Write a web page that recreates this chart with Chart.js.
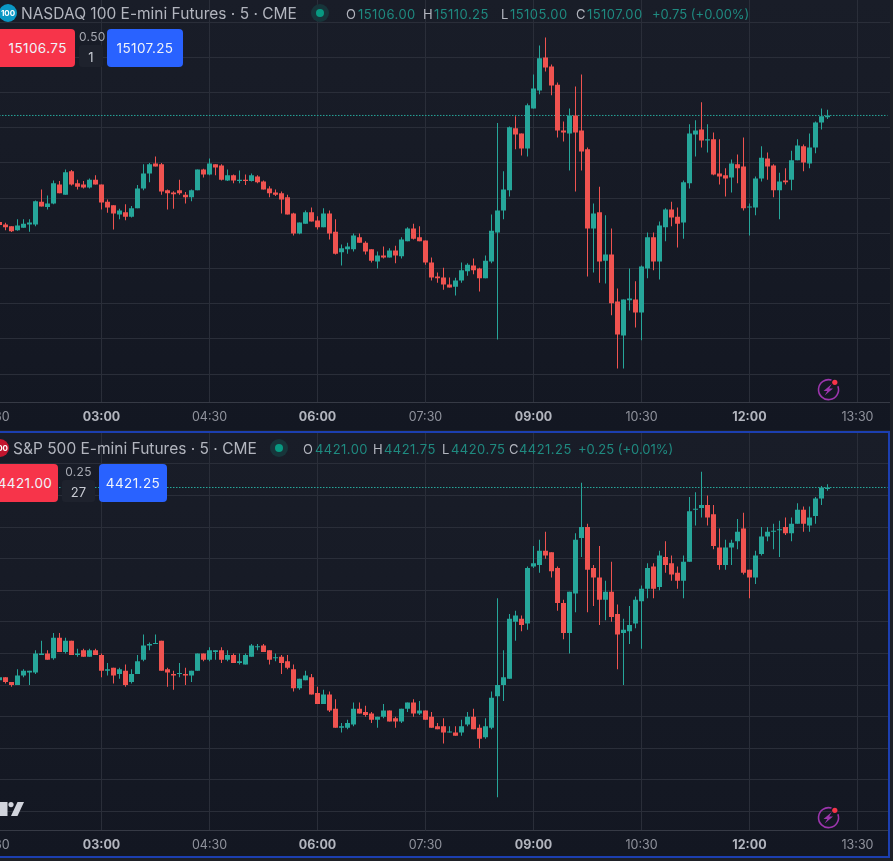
<!DOCTYPE html>
<html>
<head>
<meta charset="utf-8">
<title>NQ / ES 5 min</title>
<script src="https://cdn.jsdelivr.net/npm/chart.js@4"></script>
<style>
  html, body { margin: 0; padding: 0; width: 893px; height: 861px; overflow: hidden; background: #1e2026; }
  body { position: relative; font-family: Inter, "Noto Sans", sans-serif; }
  .pane { position: absolute; left: 0; overflow: hidden; background: linear-gradient(#191d28, #131722); }
  #pane1 { top: 0; width: 890px; height: 430px; }
  #pane2 { top: 433px; width: 888px; height: 423px; }
  .pane canvas { position: absolute; left: -46px; top: 0; }
  #frame { position: absolute; left: -4px; top: 431px; width: 894px; height: 427px; box-sizing: border-box; border: 2px solid #1c3fb0; }
  .txt { position: absolute; white-space: nowrap; line-height: 1; }
  .title { font-size: 15.5px; color: #b2b5be; }
  .ohlc { font-size: 13px; letter-spacing: 0.45px; color: #b2b5be; }
  .val { color: #1f8a80; }
  .chg { letter-spacing: 0; }
  .dot { position: absolute; width: 18px; height: 18px; border-radius: 50%; background: #17353a; }
  .dot i { position: absolute; left: 5px; top: 5px; width: 8px; height: 8px; border-radius: 50%; background: #089981; }
  .badge { position: absolute; width: 18px; height: 18px; border-radius: 50%; color: #fff; font-size: 8px; font-weight: 700; line-height: 18px; text-align: center; }
  .btn { position: absolute; top: 0; height: 38px; border-radius: 4px; color: #f0f3fa; font-size: 13.5px; letter-spacing: 0.4px; line-height: 38px; text-align: center; }
  .sell { background: #f7344a; }
  .buy { background: #2962ff; }
  .spread { position: absolute; font-size: 12px; letter-spacing: 0.3px; color: #a6a9b2; text-align: center; line-height: 1; }
  .qty { position: absolute; height: 22px; border-radius: 3px; background: #1e222d; color: #c8cbd3; font-size: 13px; line-height: 24px; text-align: center; }
  svg { position: absolute; overflow: visible; }
</style>
</head>
<body>

<div class="pane" id="pane1"><canvas id="nqChart" width="943" height="430"></canvas></div>
<div class="pane" id="pane2"><canvas id="esChart" width="943" height="423"></canvas></div>
<div id="frame"></div>

<!-- top legend -->
<div class="badge" style="left:-1px;top:4px;background:#0a97c4">100</div>
<div class="txt title" style="left:21px;top:6px">NASDAQ 100 E-mini Futures · 5 · CME</div>
<div class="dot" style="left:311px;top:4px"><i></i></div>
<div class="txt ohlc" style="left:346px;top:8px">O</div><div class="txt ohlc val" style="left:358px;top:8px">15106.00</div>
<div class="txt ohlc" style="left:423px;top:8px">H</div><div class="txt ohlc val" style="left:434px;top:8px">15110.25</div>
<div class="txt ohlc" style="left:501px;top:8px">L</div><div class="txt ohlc val" style="left:510px;top:8px">15105.00</div>
<div class="txt ohlc" style="left:576px;top:8px">C</div><div class="txt ohlc val" style="left:587px;top:8px">15107.00</div>
<div class="txt ohlc val chg" style="left:652px;top:8px">+0.75 (+0.00%)</div>

<div class="btn sell" style="left:-8px;top:29px;width:83px">&nbsp;&nbsp;15106.75</div>
<div class="spread" style="left:79px;top:31px;width:24px">0.50</div>
<div class="qty" style="left:79px;top:45px;width:24px">1</div>
<div class="btn buy" style="left:107px;top:29px;width:76px">15107.25</div>

<!-- bottom legend -->
<div class="badge" style="left:-9px;top:439px;background:#c2162e">500</div>
<div class="txt title" style="left:13px;top:441px">S&amp;P 500 E-mini Futures · 5 · CME</div>
<div class="dot" style="left:270px;top:439px"><i></i></div>
<div class="txt ohlc" style="left:303px;top:443px">O</div><div class="txt ohlc val" style="left:315px;top:443px">4421.00</div>
<div class="txt ohlc" style="left:373px;top:443px">H</div><div class="txt ohlc val" style="left:384px;top:443px">4421.75</div>
<div class="txt ohlc" style="left:442px;top:443px">L</div><div class="txt ohlc val" style="left:451px;top:443px">4420.75</div>
<div class="txt ohlc" style="left:509px;top:443px">C</div><div class="txt ohlc val" style="left:519px;top:443px">4421.25</div>
<div class="txt ohlc val chg" style="left:578px;top:443px">+0.25 (+0.01%)</div>

<div class="btn sell" style="left:-8px;top:464px;width:66px">4421.00</div>
<div class="spread" style="left:62px;top:466px;width:33px">0.25</div>
<div class="qty" style="left:62px;top:480px;width:33px">27</div>
<div class="btn buy" style="left:99px;top:464px;width:68px">4421.25</div>

<!-- logo piece, lower left -->
<svg style="left:0;top:0" width="893" height="861">
  <path d="M0 802h7.5v14H0z" fill="#d1d4dc"/>
  <circle cx="11" cy="804.6" r="2.6" fill="#d1d4dc"/>
  <path d="M17.5 802H24l-6.5 14H11z" fill="#d1d4dc"/>
</svg>

<!-- lightning icons -->
<svg style="left:817.5px;top:379px" width="21" height="21" viewBox="0 0 21 21"><g fill="none" stroke="#9c35ad" stroke-width="1.6"><path d="M13.5 1.1A10 10 0 1 0 19.9 7.2"/></g><path d="M13.8 5 5.5 12h3.8l-2.6 4.6L15 9.5h-3.8z" fill="#9c35ad"/><circle cx="16.8" cy="3.3" r="2.6" fill="#f7344a"/></svg>
<svg style="left:817.5px;top:807px" width="21" height="21" viewBox="0 0 21 21"><g fill="none" stroke="#9c35ad" stroke-width="1.6"><path d="M13.5 1.1A10 10 0 1 0 19.9 7.2"/></g><path d="M13.8 5 5.5 12h3.8l-2.6 4.6L15 9.5h-3.8z" fill="#9c35ad"/><circle cx="16.8" cy="3.3" r="2.6" fill="#f7344a"/></svg>

<script>
const times = [
  "01:00","01:05","01:10","01:15","01:20","01:25","01:30","01:35","01:40","01:45","01:50","01:55",
  "02:00","02:05","02:10","02:15","02:20","02:25","02:30","02:35","02:40","02:45","02:50","02:55",
  "03:00","03:05","03:10","03:15","03:20","03:25","03:30","03:35","03:40","03:45","03:50","03:55",
  "04:00","04:05","04:10","04:15","04:20","04:25","04:30","04:35","04:40","04:45","04:50","04:55",
  "05:00","05:05","05:10","05:15","05:20","05:25","05:30","05:35","05:40","05:45","05:50","05:55",
  "06:00","06:05","06:10","06:15","06:20","06:25","06:30","06:35","06:40","06:45","06:50","06:55",
  "07:00","07:05","07:10","07:15","07:20","07:25","07:30","07:35","07:40","07:45","07:50","07:55",
  "08:00","08:05","08:10","08:15","08:20","08:25","08:30","08:35","08:40","08:45","08:50","08:55",
  "09:00","09:05","09:10","09:15","09:20","09:25","09:30","09:35","09:40","09:45","09:50","09:55",
  "10:00","10:05","10:10","10:15","10:20","10:25","10:30","10:35","10:40","10:45","10:50","10:55",
  "11:00","11:05","11:10","11:15","11:20","11:25","11:30","11:35","11:40","11:45","11:50","11:55",
  "12:00","12:05","12:10","12:15","12:20","12:25","12:30","12:35","12:40","12:45","12:50","12:55",
  "13:00","13:05","13:10","13:15","13:20","13:25","13:30","13:35","13:40","13:45","13:50","13:55",
  "14:00"
];
const firstBarTime = "01:35";
const tickLabels = ["01:30", "03:00", "04:30", "06:00", "07:30", "09:00", "10:30", "12:00", "13:30"];
const boldTicks = ["03:00", "06:00", "09:00", "12:00"];

// --------- NASDAQ 100 candles ---------
const nqOpen = [
  15046.5,15045,15044,15041.75,15043.25,15045,15045,15058,15055,15057,
  15067.75,15062,15075.25,15068.5,15067.75,15066,15070.5,15067.75,15058,15056,
  15050.75,15052,15049.5,15054.25,15065.5,15074,15079.75,15079.25,15064.5,15063.25,
  15064.5,15062,15060.5,15064.5,15076.25,15073.5,15079.25,15078.5,15070,15073,
  15069.75,15070.5,15069.75,15072.25,15069.5,15065.5,15063.25,15062.75,15060.5,15051.25,
  15040,15045.5,15052,15047.25,15043.5,15051.25,15041,15029.25,15031,15031,
  15037.75,15034.75,15031,15024,15027.5,15026.25,15030.25,15027,15035.5,15042.75,
  15037.75,15036,15023.5,15015.5,15015,15011,15009.75,15013.25,15018.5,15021.75,
  15020,15014.5,15024,15040.5,15053,15064.5,15099.75,15096.75,15088.25,15111,
  15121.25,15140,15134.75,15124.5,15098.5,15096.75,15107,15098.5,15087.75,15042.75,
  15052,15024.5,15028,15001.25,14982,15002,15002.5,14995,15020,15037.75,
  15024,15043.5,15053.5,15049.5,15046.25,15068.5,15096.25,15099,15092.75,15093.5,
  15074,15073,15071.75,15079.25,15078,15054.75,15054.75,15071.25,15082.5,15078.5,
  15064.5,15070,15070.5,15081.5,15089.5,15079.75,15088.75,15103,15106
];
const nqHigh = [
  15048,15046,15044,15048,15048,15048,15058.75,15065,15061.5,15070,
  15069.75,15076.25,15076,15070.5,15069.75,15071.25,15073,15067.75,15059.25,15056,
  15054,15056.5,15055.5,15067.5,15079.25,15080,15083.75,15080,15065,15064,
  15070.5,15063.5,15065,15076.25,15076.75,15082.5,15079.25,15079.25,15076.25,15073.5,
  15075.75,15073.5,15074,15073,15070,15066.75,15065,15063.75,15062,15051.75,
  15046.25,15053,15054.75,15049.75,15054.25,15053,15048,15033.75,15034.75,15040,
  15040,15035.5,15031,15029.75,15032.5,15031.5,15033,15037.75,15043.5,15045.5,
  15044,15036,15026.25,15017.75,15020.5,15015,15014.75,15023.5,15023,15025.75,
  15020.5,15027.5,15050.75,15102.75,15075.25,15100.75,15106.5,15096.75,15113.75,15130.25,
  15146.75,15151.25,15136,15125.75,15103.5,15111,15123.5,15130.25,15088.75,15057,
  15066.5,15050.25,15042.75,15008.75,15002.5,15020,15012.75,15021.75,15040.5,15040.5,
  15046.75,15054.25,15058,15054.75,15070,15102,15104.25,15114.5,15102,15097.25,
  15093.5,15077,15082,15084.75,15094.5,15057,15072.25,15089.5,15086,15079.25,
  15074.5,15077,15087,15093.5,15090.5,15096.75,15103.5,15111,15110.25
];
const nqLow = [
  15044,15041.75,15040.75,15041.5,15043.25,15041,15044,15055.25,15053.5,15056.5,
  15062.75,15062,15067.25,15065,15065.5,15065.5,15067.75,15053.5,15051.75,15042.25,
  15048,15047.5,15049,15054.25,15064.5,15069,15078,15062,15053.5,15054,
  15062,15057,15058.25,15064.5,15071.75,15073,15073,15070,15069.75,15068.5,
  15068.5,15067.5,15069.5,15068.5,15065,15060.5,15061.25,15051.25,15050.75,15038.75,
  15039.5,15045.5,15046.75,15042.25,15043.5,15036.5,15028,15021.75,15028.5,15029.75,
  15034.75,15028,15023.5,15020,15025.75,15026.25,15023,15025.75,15035.5,15036.5,
  15035.5,15022.25,15013.25,15012,15008,15009.25,15004.75,15012,15016,15016.75,
  15007,15014.5,15023,14979.75,15048,15061,15087.75,15084.25,15083.75,15111,
  15119,15132,15118.5,15094.5,15092.25,15075.75,15063.75,15075.75,15015.5,15017.75,
  15012,15011.5,14993.5,14963.25,14963.25,14996.25,14986.5,14979.25,15014.5,15019,
  15013.75,15035.5,15044,15032,15037,15065.5,15083.75,15088.75,15086,15073,
  15067.75,15061,15063.25,15068.5,15053,15038.75,15050.25,15069.5,15070.5,15060.5,
  15048,15067.75,15064.5,15081.5,15075.25,15077,15085.5,15099,15105
];
const nqClose = [
  15044.75,15043.5,15041.25,15044.5,15045.5,15046.25,15058.25,15055.25,15057,15068.5,
  15062.75,15074.75,15067.75,15066.5,15066,15070.5,15067.75,15057.5,15054.75,15051.25,
  15053,15049.5,15054.25,15065.5,15074,15079.25,15078,15063.75,15062.75,15062.25,
  15062.75,15060.5,15064.5,15076.25,15073.5,15079.75,15077.5,15070.5,15073,15070,
  15070.5,15069.75,15073,15069,15065,15062.75,15062,15059.25,15050.75,15040,
  15046.25,15052,15046.75,15043.5,15051.25,15040,15028.5,15031.5,15032.5,15038.75,
  15034.75,15029.75,15024.5,15027.5,15026.25,15030.25,15027.5,15036.5,15042.75,15037,
  15035.5,15023.5,15015,15014.5,15011,15009.25,15013.25,15019,15022.25,15019,
  15014.5,15024.5,15041.5,15053,15065,15100.25,15096.25,15088.25,15112.75,15122.25,
  15139.5,15134.25,15124,15098.5,15097.25,15107,15097.25,15086.5,15042.75,15051.25,
  15024,15028,15000.25,14982.5,15002.5,15003,14995,15021.25,15037.75,15024,
  15044.5,15053.5,15049,15045.5,15069,15096.75,15098.5,15092.75,15093.5,15073.5,
  15072.25,15071.25,15079.75,15077,15054.25,15055.25,15071.25,15083,15078,15064.5,
  15069.5,15069,15081.5,15090,15080.25,15088.75,15103,15106.5,15107
];
const nqLast = 15107;
const nqGrid = [14960,14980,15000,15020,15040,15060,15080,15100,15120,15140,15160];

// --------- S&P 500 candles ---------
const esOpen = [
  4390.75,4391.25,4390.5,4390,4391.5,4392,4392,4394.75,4395,4394.25,
  4397.5,4395.25,4397,4394.75,4395.5,4394.5,4395.5,4394.75,4392.25,4392.75,
  4391.75,4392.25,4390.5,4391.75,4394,4396.25,4396.5,4397,4392.5,4391.75,
  4391.75,4391.75,4391.5,4392.25,4395,4394,4395.25,4395.5,4394,4394.75,
  4393.5,4393.25,4394.5,4396,4396.25,4395.5,4394.25,4394.5,4393.75,4392.5,
  4389.5,4390.75,4391.25,4388.75,4387,4388.5,4386.25,4383.25,4383.25,4383.75,
  4386.25,4385.75,4385.5,4384.5,4385,4386,4384.75,4384.25,4386.25,4387.25,
  4385.5,4386,4385,4383.5,4383.5,4382.5,4382.5,4382.5,4383.75,4385,
  4383.25,4381.75,4383.25,4388.25,4390,4391,4400,4400.5,4399.75,4408.75,
  4409,4411.25,4411,4408.5,4403,4398.25,4404.5,4413.25,4415,4408.5,
  4407,4403.5,4404.75,4401.25,4398.25,4398.5,4399.75,4403.25,4405.25,4408.75,
  4405.5,4410.25,4409.25,4407.75,4406.5,4409.5,4417.75,4418,4418.5,4417,
  4411.75,4409,4411.75,4412.75,4414.75,4408.25,4407,4410.75,4413.5,4414.25,
  4414.5,4415,4414,4415.5,4417.75,4415.25,4416.75,4419.5,4421
];
const esHigh = [
  4391.25,4391.25,4390.5,4392.5,4392.5,4392.25,4395.5,4397,4395.5,4398.25,
  4398.25,4397.5,4397,4395.75,4395.75,4395.75,4395.75,4395,4393.5,4392.75,
  4392.75,4393.25,4392.5,4394.75,4398,4396.75,4398,4397,4392.75,4392.25,
  4393.5,4392.75,4392.25,4395,4395,4396,4395.5,4396,4395.5,4395,
  4395,4395,4396.5,4396.5,4396.5,4395.5,4395,4394.75,4394.75,4393.25,
  4391,4392.25,4391.75,4389.75,4389.25,4389,4387.75,4384,4384.5,4387.25,
  4387.25,4386.75,4385.75,4385,4387,4386,4385,4386.25,4387.25,4387.75,
  4387.5,4386,4385.75,4384,4384.75,4383.5,4383.5,4384.5,4385.75,4386.25,
  4383.75,4384.75,4389,4403.75,4395.5,4401.25,4401.75,4401,4408.75,4412,
  4413,4414.25,4411,4408.75,4403.5,4404.75,4414,4422,4415.5,4409,
  4412,4406.5,4409.5,4402.75,4400.5,4402.5,4404,4405.75,4409.25,4409.25,
  4411.25,4412.75,4410.5,4408.75,4410.5,4419.75,4420.5,4423.75,4420,4418.5,
  4414.75,4413,4413,4416.25,4417.25,4408.25,4411.25,4415,4415,4415.5,
  4416,4416.5,4416.5,4418.75,4418.25,4418.25,4419.75,4421.5,4421.75
];
const esLow = [
  4390.75,4390.25,4389.75,4390,4391.25,4390,4391.75,4394.75,4394,4394,
  4395.25,4395,4394.75,4394.5,4394.5,4394.5,4394.75,4391.25,4391.5,4390.25,
  4391,4389.75,4390.25,4391.75,4393.75,4395.5,4396.5,4392.25,4389.75,4389.25,
  4391.25,4390,4390.5,4392.25,4393.75,4393.75,4394,4393.5,4393.75,4393.5,
  4393.25,4393.25,4394.5,4395.5,4395.25,4393.25,4393.75,4391.75,4392.5,4389,
  4389.25,4390.75,4388.5,4387,4387,4385.75,4383.25,4382.5,4383,4383.5,
  4385.5,4385,4384,4383.25,4384.75,4384.25,4383.25,4384,4385.75,4385,
  4385.25,4384.5,4383.25,4383,4380.75,4382.5,4382,4382,4383.5,4383,
  4380,4381.5,4383,4372.25,4387.5,4391,4397,4398.5,4398.75,4408.5,
  4407.75,4410,4407,4401.75,4397.25,4395,4401.5,4410.25,4401.5,4402.5,
  4399.5,4400.25,4400,4392.5,4390,4396.5,4399,4395.75,4403.75,4403.75,
  4405,4407.75,4406.5,4405.25,4403.75,4409.5,4415.25,4416.5,4415.25,4411.5,
  4408.25,4408.25,4409,4411.5,4407.5,4403.75,4406,4410.5,4412.75,4411.5,
  4410.25,4413.75,4412.75,4415.5,4414.25,4414.25,4415.5,4418.5,4420.75
];
const esClose = [
  4391.25,4390.5,4390,4391.5,4392.25,4392.25,4395,4395,4394,4397.5,
  4395.25,4397,4394.75,4395,4394.5,4395.5,4394.75,4392.25,4392.5,4391.5,
  4392.5,4390,4391.75,4393.75,4396.25,4396.5,4396.5,4392.25,4392,4391.5,
  4391.75,4391.5,4392.25,4395,4394,4395.5,4395.5,4394,4394.75,4393.5,
  4393.75,4394.75,4396.25,4396,4395.25,4394,4394.25,4393.5,4392.75,4389.5,
  4391,4391.5,4388.5,4387,4388.5,4386,4383.25,4383.5,4384,4386.25,
  4385.5,4385.25,4384.5,4385,4386,4384.25,4384.25,4386.25,4387.25,4385.5,
  4386,4384.5,4383.25,4383,4382.5,4382.5,4382,4383.5,4385,4383,
  4381.5,4383.5,4388,4390,4391.25,4400.5,4401,4399.5,4408.5,4409.25,
  4411.25,4410.5,4408,4403,4398.25,4404.75,4413,4415,4408.25,4407,
  4403.5,4404.75,4400.75,4398,4398.75,4399.5,4403.5,4405.25,4408.5,4405.25,
  4410.5,4409,4407.5,4406.5,4409.5,4417.5,4417.75,4418.5,4416.5,4412,
  4409,4411.75,4412.5,4414.25,4407.75,4407,4410.5,4413.5,4414.25,4414.25,
  4414.5,4414,4415.5,4417.75,4415.5,4416.5,4419.5,4421.25,4421.25
];
const esLast = 4421.25;
const esGrid = [4370,4375,4380,4385,4390,4395,4400,4405,4410,4415,4420,4425];

const upColor = "#26a69a";
const downColor = "#ef5350";

// Builds one candle pane. Wicks and bodies are two floating bar datasets on the same category axis.
function createPane(canvasId, open, high, low, close, last, gridValues, yMin, yMax, axisHeight) {
  const start = times.indexOf(firstBarTime);
  const barTime = i => times[start + i];
  const barColors = open.map((o, i) => (close[i] >= o ? upColor : downColor));

  return new Chart(document.getElementById(canvasId), {
    data: {
      labels: times,
      datasets: [
        {
          type: "line",
          data: [{ x: times[0], y: last }, { x: "13:55", y: last }],
          borderColor: "#26a69a",
          borderWidth: 1,
          borderDash: [1.5, 1.5],
          borderDashOffset: 0.5,
          pointRadius: 0,
          order: 3
        },
        {
          type: "bar",
          data: low.map((l, i) => ({ x: barTime(i), y: [l, high[i]] })),
          backgroundColor: barColors,
          barThickness: 1,
          grouped: false,
          inflateAmount: 0,
          order: 2
        },
        {
          type: "bar",
          data: open.map((o, i) => ({ x: barTime(i), y: [o, close[i]] })),
          backgroundColor: barColors,
          barThickness: 5,
          minBarLength: 1,
          grouped: false,
          inflateAmount: 0,
          order: 1
        }
      ]
    },
    options: {
      responsive: false,
      animation: false,
      events: [],
      layout: { padding: { left: 0.5, right: 0.5, top: 0, bottom: 0 } },
      plugins: { legend: { display: false }, tooltip: { enabled: false } },
      scales: {
        x: {
          type: "category",
          offset: true,
          grid: { offset: false, color: "#2a2e39", drawTicks: false },
          border: { color: "#363a45" },
          ticks: {
            autoSkip: false,
            maxRotation: 0,
            padding: 8,
            color: ctx => (boldTicks.includes(times[ctx.tick.value]) ? "#b2b5be" : "#8f929c"),
            font: ctx => ({
              family: "Inter",
              size: 12.5,
              weight: boldTicks.includes(times[ctx.tick.value]) ? "bold" : "normal"
            })
          },
          afterBuildTicks: axis => {
            axis.ticks = tickLabels.map(t => ({ value: times.indexOf(t) }));
          },
          afterFit: axis => {
            axis.height = axisHeight;
          }
        },
        y: {
          min: yMin,
          max: yMax,
          grid: { color: "#2a2e39", drawTicks: false },
          border: { display: false },
          ticks: { display: false },
          afterBuildTicks: axis => {
            axis.ticks = gridValues.map(v => ({ value: v }));
          },
          afterFit: axis => {
            axis.width = 0;
          }
        }
      }
    }
  });
}

document.addEventListener("DOMContentLoaded", () => {
  createPane("nqChart", nqOpen, nqHigh, nqLow, nqClose, nqLast, nqGrid, 14944.2, 15172.6, 28);
  createPane("esChart", esOpen, esHigh, esLow, esClose, esLast, esGrid, 4367.08, 4429.87, 26);
});
</script>
</body>
</html>
